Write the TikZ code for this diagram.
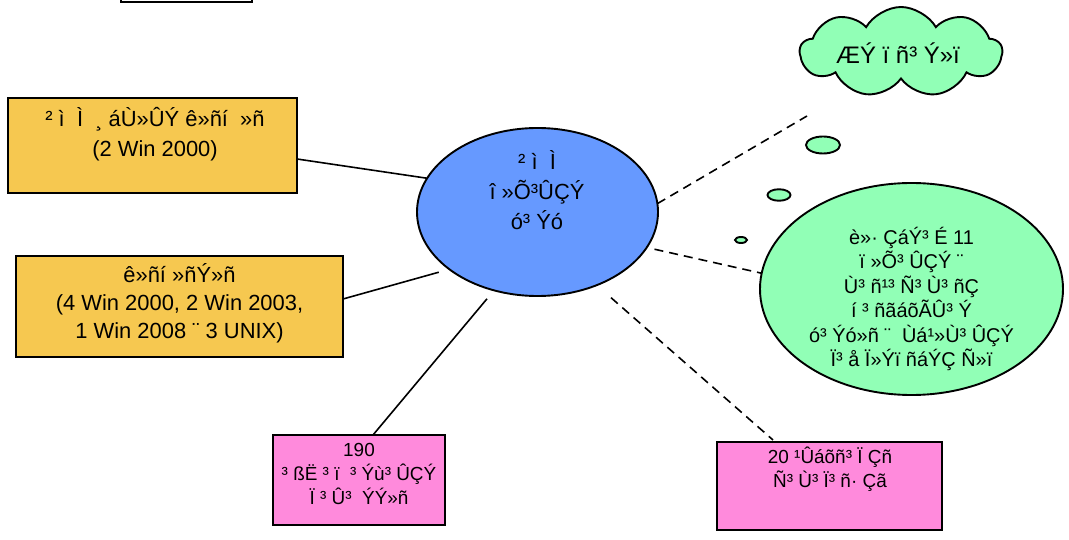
\documentclass[tikz,border=0pt]{standalone}
\usepackage{fontspec}
\setmainfont{Liberation Sans}
\usetikzlibrary{shapes.geometric,shapes.symbols}
\definecolor{boxyellow}{RGB}{246,200,80}
\definecolor{netblue}{RGB}{102,153,255}
\definecolor{mint}{RGB}{145,255,182}
\definecolor{pinkbox}{RGB}{255,138,220}
\begin{document}
\begin{tikzpicture}[x=1bp,y=-1bp,
  every node/.style={inner sep=0pt, outer sep=0pt},
  shapeline/.style={draw=black, line width=1.9bp},
  ybox/.style={shapeline, rectangle, fill=boxyellow},
  pbox/.style={shapeline, rectangle, fill=pinkbox},
  bubble/.style={shapeline, ellipse, fill=mint},
  txtbig/.style={align=center, font=\fontsize{22}{30}\selectfont},
  txtmid/.style={align=center, font=\fontsize{20}{24.6}\selectfont},
  txtsmall/.style={align=center, font=\fontsize{19}{24}\selectfont},
  link/.style={draw=black, line width=1.6bp},
  dlink/.style={link, dash pattern=on 9bp off 6bp}]
\useasboundingbox (0,0) rectangle (1069,540);
% shapes
\node[shapeline, rectangle, fill=white, minimum width=131bp, minimum height=40bp] (topbox) at (186.5,-18) {};
\node[ybox, minimum width=289bp, minimum height=95bp] (srvA) at (152.5,145.5) {};
\node[ybox, minimum width=327bp, minimum height=101bp] (srvB) at (179.5,306.5) {};
\node[shapeline, ellipse, fill=netblue, minimum width=241bp, minimum height=168bp] (lan) at (537.5,212) {};
\node[shapeline, cloud, cloud puffs=9, cloud puff arc=120, aspect=2.2, fill=mint, minimum width=202bp, minimum height=90bp] (cloudn) at (901,52) {};
\node[bubble, minimum width=34bp, minimum height=17bp] (b1) at (823,145) {};
\node[bubble, minimum width=23bp, minimum height=11.5bp] (b2) at (779,195) {};
\node[bubble, minimum width=12bp, minimum height=6bp] (b3) at (741,240) {};
\node[bubble, minimum width=303bp, minimum height=212bp] (reg) at (911.5,289) {};
\node[pbox, minimum width=172bp, minimum height=90bp] (wsL) at (359,480) {};
\node[pbox, minimum width=225bp, minimum height=88bp] (wsR) at (829.5,486) {};
% texts
\node[txtbig] (tA) at (155,134) {² ì \ Ì \ ¸ áÙ»ÛÝ ê»ñí \ »ñ\\(2 Win 2000)};
\node[txtbig, font=\fontsize{22}{28}\selectfont] (tB) at (179.5,303) {ê»ñí »ñÝ»ñ\\(4 Win 2000, 2 Win 2003,\\1 Win 2008 ¨ 3 UNIX)};
\node[txtbig] (tLan) at (537,190) {² ì \ Ì\\î »Õ³ÛÇÝ\\ó³ Ýó};
\node[txtbig, font=\fontsize{24}{30}\selectfont] (tCloud) at (898,53) {ÆÝ ï ñ³ Ý»ï};
\node[txtmid] (tReg) at (911.5,299) {è»· ÇáÝ³ É 11\\ï »Õ³ ÛÇÝ ¨\\Ù³ ñ¹³ Ñ³ Ù³ ñÇ\\í ³ ñãáõÃÛ³ Ý\\ó³ Ýó»ñ ¨ \ Ùá¹»Ù³ ÛÇÝ\\Ï³ å Ï»Ýï ñáÝÇ Ñ»ï};
\node[txtsmall] (tWsL) at (359,474) {190\\³ ßË ³ ï \ ³ Ýù³ ÛÇÝ\\Ï ³ Û³ \ ÝÝ»ñ};
\node[txtsmall] (tWsR) at (830,469) {20 ¹Ûáõñ³ Ï Çñ\\Ñ³ Ù³ Ï³ ñ· Çã};
% connectors
\coordinate (thinkEnd) at (807,116);
\draw[link] ([yshift=-13.5bp]srvA.east) -- (lan.163.5);
\draw[link, shorten >=11bp] ([yshift=7.5bp]srvB.east) -- (lan.213.5);
\draw[link, shorten >=11bp] ([xshift=14bp]wsL.north) -- (lan.241.1);
\draw[dlink] (lan.4.7) -- (thinkEnd);
\draw[dlink, shorten <=8bp] (lan.-18.65) -- (reg.174.4);
\draw[dlink, shorten <=19bp] (lan.-51.3) -- ([xshift=-56.5bp,yshift=2bp]wsR.north);
\end{tikzpicture}
\end{document}
